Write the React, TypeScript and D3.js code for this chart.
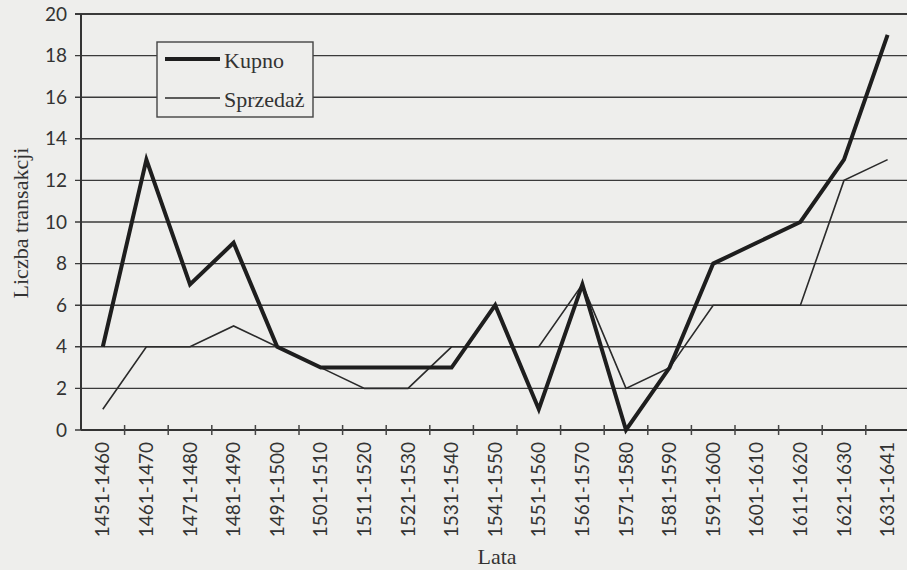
import * as d3 from "d3";

const periods = [
  "1451-1460", "1461-1470", "1471-1480", "1481-1490", "1491-1500",
  "1501-1510", "1511-1520", "1521-1530", "1531-1540", "1541-1550",
  "1551-1560", "1561-1570", "1571-1580", "1581-1590", "1591-1600",
  "1601-1610", "1611-1620", "1621-1630", "1631-1641",
];
const kupno = [4, 13, 7, 9, 4, 3, 3, 3, 3, 6, 1, 7, 0, 3, 8, 9, 10, 13, 19];
const sprzedaz = [1, 4, 4, 5, 4, 3, 2, 2, 4, 4, 4, 7, 2, 3, 6, 6, 6, 12, 13];
const yTicks = [0, 2, 4, 6, 8, 10, 12, 14, 16, 18, 20];

const W = 907;
const H = 570;
const left = 81;
const top = 14;
const bottom = 430;
const bandW = 43.6;

export default function App() {
  const x = d3
    .scaleBand<string>()
    .domain(periods)
    .range([left, left + bandW * periods.length]);
  const y = d3.scaleLinear().domain([0, 20]).range([bottom, top]);
  const cx = (p: string) => (x(p) ?? 0) + x.bandwidth() / 2;

  const line = d3
    .line<number>()
    .x((_, i) => cx(periods[i]))
    .y((d) => y(d));

  const serif = "'Liberation Serif', 'DejaVu Serif', serif";
  const sans = "Lato, 'Open Sans', sans-serif";

  return (
    <svg
      width={W}
      height={H}
      style={{ position: "absolute", left: 0, top: 0 }}
    >
      <rect width={W} height={H} fill="#eeeeec" />

      {/* Gridlines */}
      {yTicks.map((t) => (
        <line
          key={t}
          x1={left - 6}
          x2={W}
          y1={y(t)}
          y2={y(t)}
          stroke="#3a3a3a"
          strokeWidth={t === 20 ? 2.2 : 1.4}
        />
      ))}
      {yTicks.map((t) => (
        <text
          key={t}
          x={67}
          y={y(t)}
          dy="0.35em"
          textAnchor="end"
          fontFamily={sans}
          fontSize={19}
          fill="#333"
        >
          {t}
        </text>
      ))}

      {/* Axes */}
      <line x1={left} x2={left} y1={top} y2={bottom} stroke="#333" strokeWidth={2} />
      <line x1={left} x2={W} y1={bottom} y2={bottom} stroke="#333" strokeWidth={2.2} />
      {periods.map((p) => (
        <line
          key={p}
          x1={(x(p) ?? 0) + x.bandwidth()}
          x2={(x(p) ?? 0) + x.bandwidth()}
          y1={bottom - 5}
          y2={bottom + 5}
          stroke="#444"
          strokeWidth={1.5}
        />
      ))}
      {periods.map((p) => (
        <text
          key={p}
          transform={`translate(${cx(p)},${bottom + 12}) rotate(-90)`}
          dy="0.35em"
          textAnchor="end"
          fontFamily={sans}
          fontSize={19}
          fill="#333"
        >
          {p}
        </text>
      ))}

      {/* Series */}
      <path d={line(sprzedaz) ?? ""} fill="none" stroke="#2a2a2a" strokeWidth={1.6} />
      <path
        d={line(kupno) ?? ""}
        fill="none"
        stroke="#1e1e1e"
        strokeWidth={4}
        strokeLinejoin="miter"
      />

      {/* Axis titles */}
      <text
        transform={`translate(28,${(top + bottom) / 2 + 1}) rotate(-90)`}
        textAnchor="middle"
        fontFamily={serif}
        fontSize={22}
        fill="#333"
      >
        Liczba transakcji
      </text>
      <text
        x={497}
        y={564}
        textAnchor="middle"
        fontFamily={serif}
        fontSize={22}
        fill="#333"
      >
        Lata
      </text>

      {/* Legend */}
      <rect x={157} y={42} width={156} height={75} fill="#eeeeec" stroke="#444" strokeWidth={1.4} />
      <line x1={165} x2={220} y1={59} y2={59} stroke="#1e1e1e" strokeWidth={4} />
      <text x={224} y={68} fontFamily={serif} fontSize={22} fill="#333">
        Kupno
      </text>
      <line x1={165} x2={220} y1={98} y2={98} stroke="#2a2a2a" strokeWidth={1.6} />
      <text x={224} y={107} fontFamily={serif} fontSize={22} fill="#333">
        Sprzedaż
      </text>
    </svg>
  );
}
